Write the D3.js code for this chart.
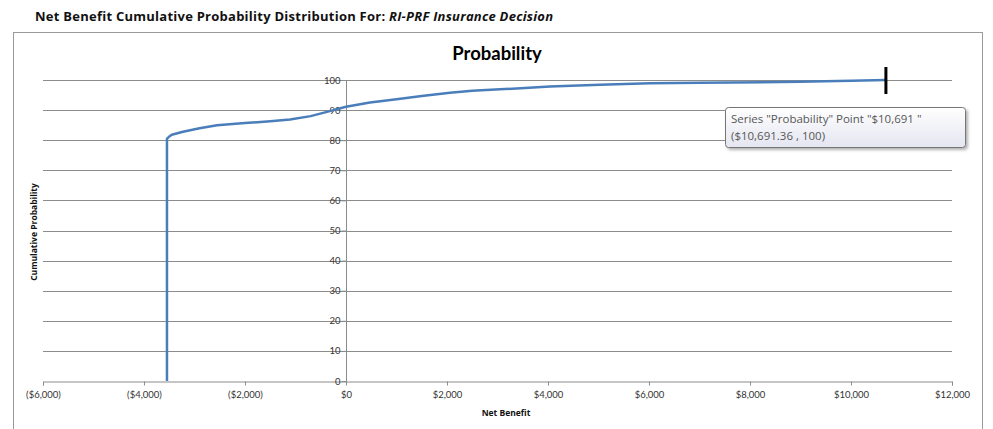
<!DOCTYPE html>
<html>
<head>
<meta charset="utf-8">
<script src="https://cdn.jsdelivr.net/npm/d3@7"></script>
<style>
  body { margin: 0; background: #fff; }
  svg { display: block; }
</style>
</head>
<body>
<svg></svg>
<script>
// ===== données =====
const netBenefit = [-3545, -3545, -3500, -3450, -3228, -2900, -2554, -2000, -1500, -1109, -700, -376, 0, 475, 1000, 1500, 2059, 2500, 3050, 4040, 5030, 6020, 7010, 8990, 10000, 10691];
const cumProb    = [0, 80.5, 81.2, 81.8, 82.8, 84.0, 85.0, 85.7, 86.3, 86.9, 88.0, 89.4, 91.1, 92.5, 93.6, 94.7, 95.8, 96.4, 96.9, 97.8, 98.4, 98.9, 99.1, 99.4, 99.75, 100];
const xTicks = [-6000, -4000, -2000, 0, 2000, 4000, 6000, 8000, 10000, 12000];
const yTicks = [0, 10, 20, 30, 40, 50, 60, 70, 80, 90, 100];
const lastPoint = { label: "$10,691 ", x: 10691.36, y: 100 };

const W = 993, H = 429;
const svg = d3.select("svg").attr("width", W).attr("height", H);

const font = "Lato, 'Open Sans', sans-serif";
const wide = "'Open Sans', sans-serif";

// titre du haut
const head = svg.append("text").attr("x", 35).attr("y", 21)
  .style("font-family", wide).style("font-size", "13px").style("font-weight", "bold")
  .style("letter-spacing", "0.25px").attr("fill", "#111");
head.append("tspan").text("Net Benefit Cumulative Probability Distribution For:  ");
head.append("tspan").style("font-style", "italic").text("RI-PRF Insurance Decision");

// cadre du graphique
svg.append("rect").attr("x", 13.5).attr("y", 32.5).attr("width", 969).attr("height", 420)
  .attr("fill", "#fff").attr("stroke", "#9a9a9a").attr("stroke-width", 1);

// échelles
const x = d3.scaleLinear().domain([-6000, 12000]).range([43, 952]);
const y = d3.scaleLinear().domain([0, 100]).range([381, 80]);

// titre du graphique
svg.append("text").attr("x", 497).attr("y", 60).attr("text-anchor", "middle")
  .style("font-family", font).style("font-size", "18.5px").style("font-weight", "bold").attr("fill", "#000")
  .text("Probability");

// grille horizontale
svg.append("g").selectAll("line").data(yTicks.filter(d => d > 0)).join("line")
  .attr("x1", x(-6000)).attr("x2", x(12000))
  .attr("y1", d => Math.round(y(d)) + 0.5).attr("y2", d => Math.round(y(d)) + 0.5)
  .attr("stroke", "#8c8c8c").attr("stroke-width", 1);

// axe X
const fmt = d => d < 0 ? "($" + d3.format(",")(-d) + ")" : "$" + d3.format(",")(d);
const xAxis = svg.append("g").attr("transform", `translate(0,${Math.round(y(0)) + 0.5})`)
  .call(d3.axisBottom(x).tickValues(xTicks).tickFormat(fmt).tickSize(4).tickPadding(6));
xAxis.select(".domain").attr("stroke", "#8c8c8c");
xAxis.selectAll(".tick line").attr("stroke", "#8c8c8c");
xAxis.selectAll("text").style("font-family", font).style("font-size", "9.5px").attr("fill", "#333");

// axe Y (croise à 0)
const yAxis = svg.append("g").attr("transform", `translate(${Math.round(x(0)) + 0.5},0)`)
  .call(d3.axisLeft(y).tickValues(yTicks).tickSize(5).tickPadding(1).tickSizeOuter(0));
yAxis.select(".domain").attr("stroke", "#8c8c8c").attr("d", `M0,${y(100)}V${y(0) + 4}`);
yAxis.selectAll(".tick line").attr("stroke", "#8c8c8c");
yAxis.selectAll("text").style("font-family", font).style("font-size", "9.5px").attr("fill", "#333");

// titres des axes
svg.append("text").attr("x", 506).attr("y", 416).attr("text-anchor", "middle")
  .style("font-family", wide).style("font-size", "8.5px").style("font-weight", "bold").attr("fill", "#111")
  .text("Net Benefit");
svg.append("text").attr("transform", "translate(37,232) rotate(-90)").attr("text-anchor", "middle")
  .style("font-family", wide).style("font-size", "8.5px").style("font-weight", "bold").attr("fill", "#111")
  .text("Cumulative Probability");

// courbe
const pts = netBenefit.map((v, i) => [v, cumProb[i]]);
svg.append("path").datum(pts)
  .attr("d", d3.line().x(d => x(d[0])).y(d => y(d[1])))
  .attr("fill", "none").attr("stroke", "#4a7ebb").attr("stroke-width", 2.5)
  .attr("stroke-linejoin", "round");

// point sélectionné
svg.append("line")
  .attr("x1", x(lastPoint.x)).attr("x2", x(lastPoint.x))
  .attr("y1", y(lastPoint.y) - 13).attr("y2", y(lastPoint.y) + 14)
  .attr("stroke", "#000").attr("stroke-width", 3);

// info-bulle
const defs = svg.append("defs");
const grad = defs.append("linearGradient").attr("id", "tipg").attr("x1", 0).attr("x2", 0).attr("y1", 0).attr("y2", 1);
grad.append("stop").attr("offset", "0%").attr("stop-color", "#ffffff");
grad.append("stop").attr("offset", "100%").attr("stop-color", "#e4e5f0");
const filt = defs.append("filter").attr("id", "shadow").attr("x", "-10%").attr("y", "-20%").attr("width", "130%").attr("height", "160%");
filt.append("feDropShadow").attr("dx", 2).attr("dy", 2).attr("stdDeviation", 1.5).attr("flood-color", "#000").attr("flood-opacity", 0.3);

const tip = svg.append("g").attr("transform", "translate(725,107)");
tip.append("rect").attr("x", 0.5).attr("y", 0.5).attr("width", 240).attr("height", 40).attr("rx", 3)
  .attr("fill", "url(#tipg)").attr("stroke", "#767676").attr("filter", "url(#shadow)");
tip.append("text").attr("x", 6).attr("y", 16)
  .style("font-family", wide).style("font-size", "11.5px").attr("fill", "#575757")
  .text(`Series "Probability" Point "${lastPoint.label}"`);
tip.append("text").attr("x", 6).attr("y", 33)
  .style("font-family", wide).style("font-size", "11.5px").attr("fill", "#575757")
  .text(`($${d3.format(",.2f")(lastPoint.x)} , ${lastPoint.y})`);
</script>
</body>
</html>
